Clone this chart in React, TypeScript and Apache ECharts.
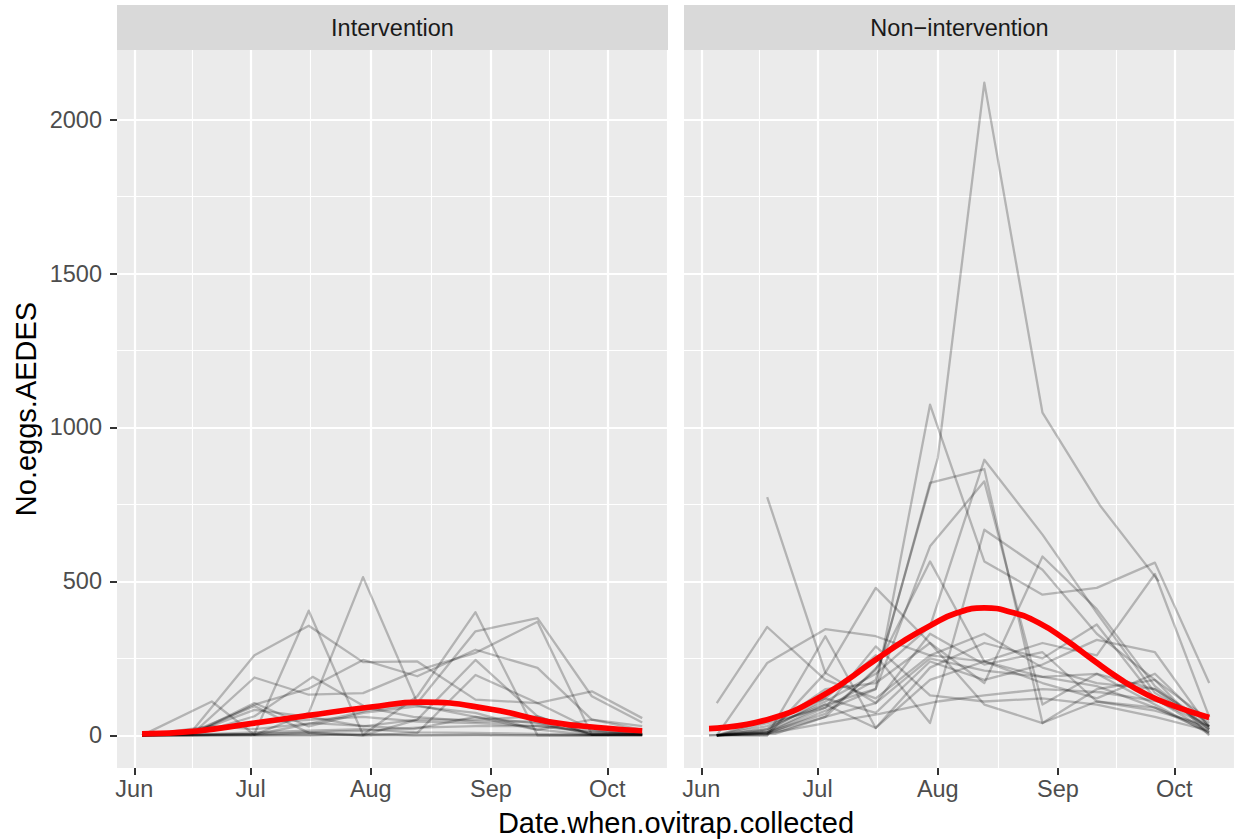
import React, { useEffect, useRef } from 'react';
import * as echarts from 'echarts';

const FONT = '"Liberation Sans", Arial, Helvetica, sans-serif';

// Facet titles
const PANELS = ['Intervention', 'Non\u2212intervention'];

// Month breaks of the date axis (Nov only bounds the last minor break)
const MONTH_BREAKS = ['2019-06-01', '2019-07-01', '2019-08-01', '2019-09-01', '2019-10-01', '2019-11-01'];
const MONTH_LABELS = ['Jun', 'Jul', 'Aug', 'Sep', 'Oct', 'Nov'];
const EGG_BREAKS = [0, 500, 1000, 1500, 2000];

// Collection rounds, intervention area
const INT_DATES_A = ['2019-06-03', '2019-06-16', '2019-07-02', '2019-07-16', '2019-07-30', '2019-08-13', '2019-08-28', '2019-09-13', '2019-09-27', '2019-10-10'];
const INT_DATES_B = ['2019-06-03', '2019-06-21', '2019-07-02', '2019-07-17', '2019-07-31', '2019-08-12', '2019-08-28', '2019-09-12', '2019-09-26', '2019-10-10'];

// Eggs per ovitrap, intervention area
const INT_TRAPS_A = [
  [0, 15, 260, 356, 238, 240, 116, 105, 143, 56],
  [0, 2, 5, 405, 2, 127, 400, 0, 0, 2],
  [0, 5, 188, 132, 137, 211, 268, 369, 2, 5],
  [0, 0, 2, 73, 514, 105, 338, 381, 127, 42],
  [0, 3, 100, 152, 245, 192, 278, 219, 51, 18],
  [0, 8, 83, 60, 29, 51, 245, 62, 2, 2],
  [0, 12, 95, 8, 0, 8, 196, 105, 18, 2],
  [0, 5, 105, 29, 73, 94, 73, 18, 51, 30],
  [0, 2, 2, 8, 0, 51, 51, 62, 2, 2],
  [0, 5, 40, 50, 60, 45, 40, 30, 10, 5],
  [0, 2, 10, 15, 20, 10, 8, 5, 2, 0],
  [0, 0, 5, 10, 15, 25, 30, 30, 15, 5],
  [0, 0, 0, 2, 0, 0, 0, 0, 0, 0],
];
const INT_TRAPS_B = [
  [0, 110, 2, 40, 30, 20, 60, 40, 10, 5],
  [0, 20, 62, 190, 90, 60, 45, 45, 5, 2],
  [0, 30, 20, 40, 80, 100, 60, 20, 2, 2],
  [0, 0, 0, 0, 5, 0, 2, 0, 0, 0],
];

// Collection rounds, non-intervention area
const NON_DATES_A = ['2019-06-05', '2019-06-18', '2019-07-03', '2019-07-16', '2019-07-30', '2019-08-13', '2019-08-28', '2019-09-11', '2019-09-26', '2019-10-10'];
const NON_DATES_B = ['2019-06-03', '2019-06-20', '2019-07-03', '2019-07-17', '2019-08-01', '2019-08-13', '2019-08-28', '2019-09-12', '2019-09-27', '2019-10-10'];

// Eggs per ovitrap, non-intervention area (null = not collected)
const NON_TRAPS_A = [
  [0, 10, 100, 151, 1074, 565, 457, 479, 561, 170],
  [0, 20, 110, 200, 354, 895, 652, 398, 138, 30],
  [0, 10, 90, 180, 820, 865, 40, 110, 90, 10],
  [0, 5, 80, 150, 614, 825, 100, 200, 150, 20],
  [0, 15, 120, 260, 40, 668, 538, 330, 180, 50],
  [null, 774, 203, 105, 330, 230, 270, 110, 80, 30],
  [105, 352, 180, 120, 260, 240, 190, 160, 90, 20],
  [0, 235, 345, 322, 260, 330, 220, 170, 150, 40],
  [0, 0, 203, 479, 300, 170, 581, 410, 160, 20],
  [0, 10, 70, 213, 565, 240, 170, 120, 200, 30],
  [0, 30, 100, 24, 180, 240, 300, 260, 524, 60],
  [0, 50, 120, 73, 240, 180, 230, 310, 270, 25],
  [0, 20, 150, 170, 300, 100, 40, 150, 180, 0],
  [0, 5, 60, 105, 250, 210, 190, 200, 100, 5],
  [0, 0, 322, 24, 220, 300, 250, 360, 120, 10],
  [0, 40, 90, 289, 130, 110, 120, 100, 60, 15],
];
const NON_TRAPS_B = [
  [0, 5, 60, 230, 901, 2120, 1048, 744, 500, null],
  [0, 10, 40, 70, 110, 130, 150, 140, 110, 30],
];

// Smoothed trend per area
const INT_TREND_DATES = ['2019-06-03', '2019-06-17', '2019-07-01', '2019-07-16', '2019-08-01', '2019-08-14', '2019-09-01', '2019-09-16', '2019-10-01', '2019-10-10'];
const INT_TREND = [5, 14, 38, 65, 92, 108, 85, 44, 23, 15];
const NON_TREND_DATES = ['2019-06-03', '2019-06-18', '2019-07-02', '2019-07-16', '2019-07-23', '2019-07-30', '2019-08-06', '2019-08-13', '2019-08-20', '2019-08-27', '2019-09-03', '2019-09-10', '2019-09-17', '2019-09-24', '2019-10-01', '2019-10-10'];
const NON_TREND = [22, 51, 127, 246, 305, 356, 398, 414, 400, 366, 310, 245, 183, 132, 95, 58];

// Dates are placed on the axis as days since the first month break
const DAY = 86400000;
const ORIGIN = Date.UTC(2019, 5, 1);
const toDay = (s: string) => {
  const [y, m, d] = s.split('-').map(Number);
  return (Date.UTC(y, m - 1, d) - ORIGIN) / DAY;
};

const GRID_BOXES = [
  { left: 117, top: 50, width: 551, height: 718 },
  { left: 684, top: 50, width: 551, height: 718 },
];

function buildOption() {
  const monthDays = MONTH_BREAKS.map(toDay);
  const monthMinor = monthDays.slice(1).map((t, i) => (t + monthDays[i]) / 2);
  const eggMinor = EGG_BREAKS.slice(1).map((v, i) => (v + EGG_BREAKS[i]) / 2);

  const start = toDay('2019-06-03');
  const end = toDay('2019-10-10');
  const xPad = (end - start) * 0.05;
  const xMin = start - xPad;
  const xMax = end + xPad + 0.2;

  const allEggs = [...INT_TRAPS_A, ...INT_TRAPS_B, ...NON_TRAPS_A, ...NON_TRAPS_B]
    .flat()
    .filter((v) => v != null) as number[];
  const yMaxData = Math.max(...allEggs);
  const yPad = yMaxData * 0.05;
  const yMin = -yPad;
  const yMax = yMaxData + yPad;

  const majorStyle = { color: '#FFFFFF', width: 2.2, type: 'solid' };
  const minorStyle = { color: '#FFFFFF', width: 1.1, type: 'solid' };

  const toPairs = (dates: string[], row: (number | null)[]) =>
    row
      .map((v, i) => (v == null ? null : [toDay(dates[i]), v]))
      .filter((p) => p != null);

  const graySeries = (gi: number, dates: string[], rows: (number | null)[][]) =>
    rows.map((row) => ({
      type: 'line',
      xAxisIndex: gi,
      yAxisIndex: gi,
      data: toPairs(dates, row),
      symbol: 'none',
      silent: true,
      z: 3,
      lineStyle: { color: 'rgba(0,0,0,0.24)', width: 2.3, join: 'round', cap: 'butt' },
    }));

  const trendSeries = (gi: number, dates: string[], vals: number[]) => ({
    type: 'line',
    xAxisIndex: gi,
    yAxisIndex: gi,
    data: toPairs(dates, vals),
    symbol: 'none',
    smooth: 0.5,
    silent: true,
    z: 4,
    lineStyle: { color: '#FF0000', width: 5.7, cap: 'butt', join: 'round' },
  });

  const inX = (t: number) => t >= xMin && t <= xMax;

  const gridLines = (gi: number) => ({
    type: 'line',
    xAxisIndex: gi,
    yAxisIndex: gi,
    data: [],
    silent: true,
    z: 1,
    markLine: {
      silent: true,
      z: 1,
      animation: false,
      symbol: ['none', 'none'],
      label: { show: false },
      emphasis: { disabled: true },
      data: [
        ...eggMinor.map((v) => ({ yAxis: v, lineStyle: minorStyle })),
        ...monthMinor.filter(inX).map((t) => ({ xAxis: t, lineStyle: minorStyle })),
        ...EGG_BREAKS.map((v) => ({ yAxis: v, lineStyle: majorStyle })),
        ...monthDays.filter(inX).map((t) => ({ xAxis: t, lineStyle: majorStyle })),
      ],
    },
  });

  const monthTicks = monthDays.filter(inX);
  const monthLabel = (v: number) => {
    const i = monthDays.findIndex((t) => Math.abs(t - v) < 0.5);
    return i >= 0 ? MONTH_LABELS[i] : '';
  };

  const xAxes = GRID_BOXES.map((_, gi) => ({
    type: 'value',
    gridIndex: gi,
    min: xMin,
    max: xMax,
    axisLine: { show: false, onZero: false },
    splitLine: { show: false },
    axisTick: {
      show: true,
      customValues: monthTicks,
      length: 7,
      lineStyle: { color: '#333333', width: 2 },
    },
    axisLabel: {
      show: true,
      customValues: monthTicks,
      formatter: monthLabel,
      margin: 9,
      color: '#4D4D4D',
      fontSize: 23.5,
      fontFamily: FONT,
      hideOverlap: false,
    },
  }));

  const yAxes = GRID_BOXES.map((_, gi) => ({
    type: 'value',
    gridIndex: gi,
    min: yMin,
    max: yMax,
    axisLine: { show: false, onZero: false },
    splitLine: { show: false },
    axisTick: {
      show: gi === 0,
      customValues: EGG_BREAKS,
      length: 7,
      lineStyle: { color: '#333333', width: 2 },
    },
    axisLabel: {
      show: gi === 0,
      customValues: EGG_BREAKS,
      formatter: (v: number) => String(v),
      margin: 15,
      color: '#4D4D4D',
      fontSize: 23.5,
      fontFamily: FONT,
    },
  }));

  const strips = GRID_BOXES.flatMap((g, i) => [
    {
      type: 'rect',
      silent: true,
      shape: { x: g.left, y: 5, width: g.width, height: g.top - 5 },
      style: { fill: '#D9D9D9' },
    },
    {
      type: 'text',
      silent: true,
      x: g.left + g.width / 2,
      y: 28,
      style: {
        text: PANELS[i],
        fill: '#1A1A1A',
        fontSize: 23.5,
        fontFamily: FONT,
        align: 'center',
        verticalAlign: 'middle',
      },
    },
  ]);

  const plotLeft = GRID_BOXES[0].left;
  const plotRight = GRID_BOXES[1].left + GRID_BOXES[1].width;
  const plotTop = GRID_BOXES[0].top;
  const plotBottom = GRID_BOXES[0].top + GRID_BOXES[0].height;

  return {
    animation: false,
    textStyle: { fontFamily: FONT },
    grid: GRID_BOXES.map((g) => ({
      ...g,
      show: true,
      backgroundColor: '#EBEBEB',
      borderWidth: 0,
      containLabel: false,
      outerBoundsMode: 'none',
    })),
    xAxis: xAxes,
    yAxis: yAxes,
    graphic: [
      ...strips,
      {
        type: 'text',
        silent: true,
        x: (plotLeft + plotRight) / 2,
        y: 823,
        style: {
          text: 'Date.when.ovitrap.collected',
          fill: '#000000',
          fontSize: 29,
          fontFamily: FONT,
          align: 'center',
          verticalAlign: 'middle',
        },
      },
      {
        type: 'text',
        silent: true,
        x: 25.6,
        y: (plotTop + plotBottom) / 2,
        rotation: Math.PI / 2,
        style: {
          text: 'No.eggs.AEDES',
          fill: '#000000',
          fontSize: 29,
          fontFamily: FONT,
          align: 'center',
          verticalAlign: 'middle',
        },
      },
    ],
    series: [
      gridLines(0),
      gridLines(1),
      ...graySeries(0, INT_DATES_A, INT_TRAPS_A),
      ...graySeries(0, INT_DATES_B, INT_TRAPS_B),
      ...graySeries(1, NON_DATES_A, NON_TRAPS_A),
      ...graySeries(1, NON_DATES_B, NON_TRAPS_B),
      trendSeries(0, INT_TREND_DATES, INT_TREND),
      trendSeries(1, NON_TREND_DATES, NON_TREND),
    ],
  };
}

export default function App() {
  const ref = useRef<HTMLDivElement>(null);
  useEffect(() => {
    document.body.style.margin = '0';
    const chart = echarts.init(ref.current as HTMLDivElement, null, { renderer: 'svg' });
    chart.setOption(buildOption() as any);
    return () => chart.dispose();
  }, []);
  return <div ref={ref} style={{ width: 1238, height: 839 }} />;
}
